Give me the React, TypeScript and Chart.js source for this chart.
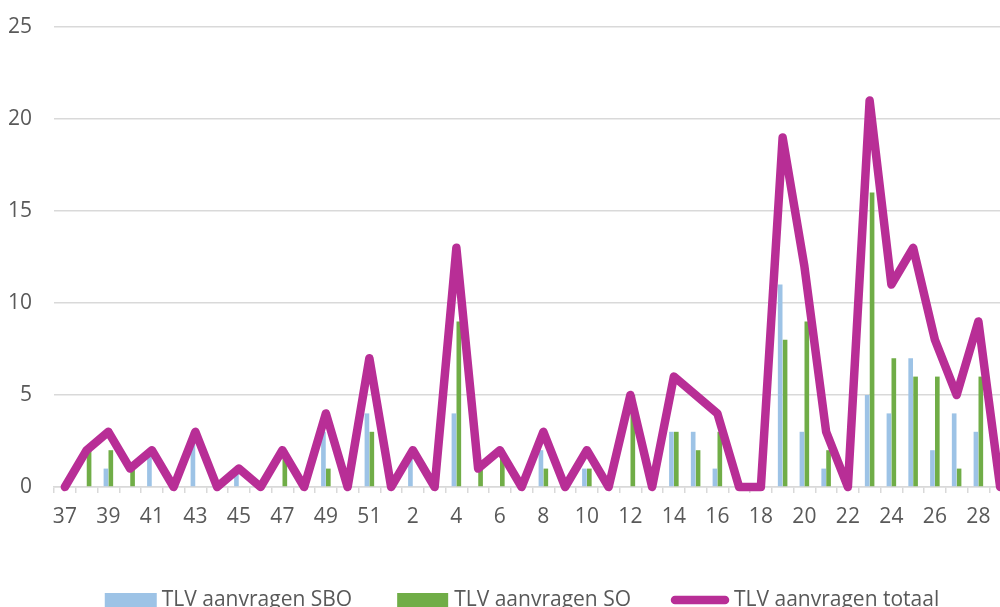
import React, { useEffect, useRef } from "react";
import { Chart, registerables } from "chart.js";

Chart.register(...registerables);

const weeks = [
  "37", "38", "39", "40", "41", "42", "43", "44", "45", "46", "47", "48", "49", "50", "51", "52",
  "2", "3", "4", "5", "6", "7", "8", "9", "10", "11", "12", "13", "14", "15", "16", "17", "18",
  "19", "20", "21", "22", "23", "24", "25", "26", "27", "28", "29",
];

const sboValues = [
  0, 0, 1, 0, 2, 0, 3, 0, 1, 0, 0, 0, 3, 0, 4, 0,
  2, 0, 4, 0, 0, 0, 2, 0, 1, 0, 0, 0, 3, 3, 1, 0, 0,
  11, 3, 1, 0, 5, 4, 7, 2, 4, 3, 0,
];

const soValues = [
  0, 2, 2, 1, 0, 0, 0, 0, 0, 0, 2, 0, 1, 0, 3, 0,
  0, 0, 9, 1, 2, 0, 1, 0, 1, 0, 5, 0, 3, 2, 3, 0, 0,
  8, 9, 2, 0, 16, 7, 6, 6, 1, 6, 0,
];

const totalValues = [
  0, 2, 3, 1, 2, 0, 3, 0, 1, 0, 2, 0, 4, 0, 7, 0,
  2, 0, 13, 1, 2, 0, 3, 0, 2, 0, 5, 0, 6, 5, 4, 0, 0,
  19, 12, 3, 0, 21, 11, 13, 8, 5, 9, 0,
];

const yTicks = [0, 5, 10, 15, 20, 25];

const seriesNames = ["TLV aanvragen SBO", "TLV aanvragen SO", "TLV aanvragen totaal"];

const BLUE = "#9DC3E6";
const GREEN = "#70AD47";
const MAGENTA = "#B82E96";
const TEXT = "#595959";
const GRID = "#D9D9D9";
const FONT = '"Open Sans", "Noto Sans", sans-serif';
const FONT_SIZE = 21;

const legendPlugin = {
  id: "customLegend",
  afterDraw(chart: any) {
    const ctx = chart.ctx;
    const ds = chart.data.datasets;
    ctx.save();
    ctx.font = `${FONT_SIZE}px ${FONT}`;
    ctx.textBaseline = "middle";
    const items = [
      { label: ds[0].label, color: ds[0].backgroundColor, kind: "box", sym: 52, gap: 5, after: 45 },
      { label: ds[1].label, color: ds[1].backgroundColor, kind: "box", sym: 51, gap: 6, after: 40 },
      { label: ds[2].label, color: ds[2].borderColor, kind: "line", sym: 58, gap: 5, after: 0 },
    ];
    let total = 0;
    items.forEach((it) => {
      total += it.sym + it.gap + ctx.measureText(it.label).width + it.after;
    });
    let x = (chart.width - total) / 2 + 2;
    const y = chart.chartArea.bottom + 113;
    items.forEach((it) => {
      if (it.kind === "box") {
        ctx.fillStyle = it.color;
        ctx.fillRect(x, y - 7, it.sym, 14);
      } else {
        ctx.strokeStyle = it.color;
        ctx.lineWidth = 8.5;
        ctx.lineCap = "round";
        ctx.beginPath();
        ctx.moveTo(x + 4, y);
        ctx.lineTo(x + it.sym - 4, y);
        ctx.stroke();
      }
      x += it.sym + it.gap;
      ctx.fillStyle = TEXT;
      ctx.textAlign = "left";
      ctx.fillText(it.label, x, y);
      x += ctx.measureText(it.label).width + it.after;
    });
    ctx.restore();
  },
};

export default function App() {
  const canvasRef = useRef<HTMLCanvasElement | null>(null);

  useEffect(() => {
    if (!canvasRef.current) return;
    const chart = new Chart(canvasRef.current, {
      type: "bar",
      data: {
        labels: weeks,
        datasets: [
          {
            type: "bar",
            label: seriesNames[0],
            data: sboValues,
            backgroundColor: BLUE,
            categoryPercentage: 0.45,
            barPercentage: 0.95,
            order: 1,
          },
          {
            type: "bar",
            label: seriesNames[1],
            data: soValues,
            backgroundColor: GREEN,
            categoryPercentage: 0.45,
            barPercentage: 0.95,
            order: 2,
          },
          {
            type: "line",
            label: seriesNames[2],
            data: totalValues,
            borderColor: MAGENTA,
            backgroundColor: MAGENTA,
            borderWidth: 8.5,
            borderJoinStyle: "round",
            borderCapStyle: "round",
            pointRadius: 0,
            tension: 0,
            order: 0,
            clip: 10,
          } as any,
        ],
      },
      options: {
        animation: false,
        responsive: false,
        devicePixelRatio: 1,
        layout: { padding: { left: 9, top: 27, right: 29, bottom: 113 } },
        plugins: {
          legend: { display: false },
          tooltip: { enabled: false },
        },
        scales: {
          x: {
            afterFit: (scale: any) => {
              scale.height = 40;
              scale.paddingLeft = 0;
              scale.paddingRight = 0;
            },
            grid: {
              display: true,
              drawOnChartArea: false,
              drawTicks: true,
              tickLength: 6,
              color: GRID,
              lineWidth: 1.5,
              offset: true,
            },
            border: { display: true, color: GRID, width: 1.5 },
            ticks: {
              autoSkip: false,
              maxRotation: 0,
              minRotation: 0,
              padding: 11,
              color: TEXT,
              font: { family: FONT, size: FONT_SIZE },
              callback: (_v: any, i: number) => (i % 2 === 0 ? weeks[i] : ""),
            },
          },
          y: {
            min: yTicks[0],
            max: yTicks[yTicks.length - 1],
            afterBuildTicks: (scale: any) => {
              scale.ticks = yTicks.map((v) => ({ value: v }));
            },
            afterFit: (scale: any) => {
              scale.width = 45;
              scale.paddingTop = 0;
              scale.paddingBottom = 0;
            },
            grid: { color: GRID, lineWidth: 1.5, drawTicks: false },
            border: { display: false },
            ticks: {
              padding: 22,
              color: TEXT,
              font: { family: FONT, size: FONT_SIZE },
            },
          },
        },
      },
      plugins: [legendPlugin],
    });
    return () => chart.destroy();
  }, []);

  return (
    <div
      style={{
        position: "fixed",
        left: 0,
        top: 0,
        width: 1000,
        height: 607,
        overflow: "hidden",
        background: "#ffffff",
      }}
    >
      <canvas ref={canvasRef} width={1040} height={640} style={{ display: "block" }} />
    </div>
  );
}
